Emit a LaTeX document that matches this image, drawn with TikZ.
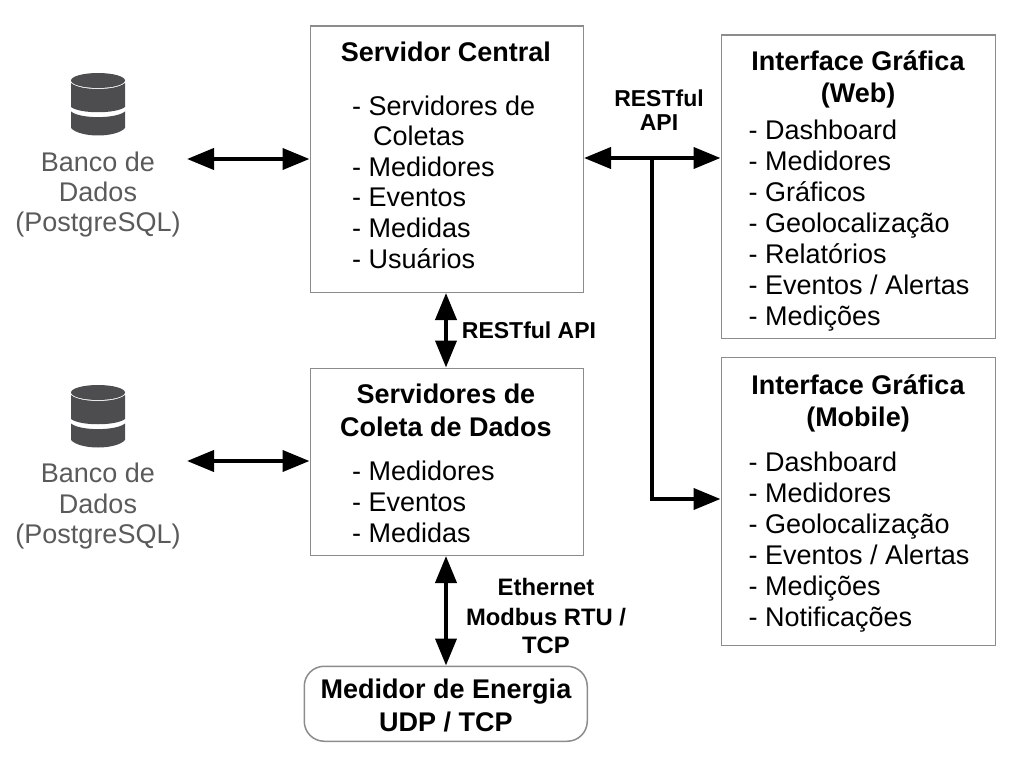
\documentclass[tikz,border=0pt]{standalone}
\usepackage{fontspec}
\setmainfont{Liberation Sans}
\usetikzlibrary{arrows.meta}
\definecolor{edgegray}{HTML}{8C8C8C}
\definecolor{dbdark}{HTML}{4D4D4F}
\definecolor{dbtext}{HTML}{5A5A5A}
\tikzset{
  x=1pt,y=-1pt,
  boxnode/.style={draw=edgegray,line width=1.5pt,fill=white,anchor=north west,inner sep=0pt},
  titletext/.style={font=\fontsize{27}{32.5}\selectfont\bfseries,align=center,inner sep=0pt,anchor=base},
  listtext/.style={font=\fontsize{27}{30.9}\selectfont,align=left,inner sep=0pt,anchor=base west,text=black},
  dbtextnode/.style={font=\fontsize{27}{30.5}\selectfont,align=center,inner sep=0pt,anchor=base,text=dbtext},
  linklabel/.style={font=\fontsize{23}{29.5}\selectfont\bfseries,align=center,inner sep=0pt,anchor=base},
  biarrow/.style={line width=4pt,{Triangle[length=27pt,width=21pt]}-{Triangle[length=27pt,width=21pt]}},
  onearrow/.style={line width=4pt,-{Triangle[length=27pt,width=21pt]}},
  dbicon/.pic={
    \fill[dbdark] (27,7.5) arc[start angle=0,end angle=360,x radius=27,y radius=7.5];
    \fill[dbdark] (-27,10) .. controls (-18,18) and (18,18) .. (27,10) -- (27,34) .. controls (18,41) and (-18,41) .. (-27,34) -- cycle;
    \fill[dbdark] (-27,38.5) .. controls (-18,46) and (18,46) .. (27,38.5) -- (27,55) .. controls (18,65) and (-18,65) .. (-27,55) -- cycle;
  }
}
\begin{document}
\begin{tikzpicture}
\useasboundingbox (0,0) rectangle (1010,757);
% boxes
\node[boxnode,minimum width=273pt,minimum height=266pt] (central) at (309.5,25.5) {};
\node[boxnode,minimum width=273pt,minimum height=187pt] (coleta) at (309.5,367.5) {};
\node[boxnode,minimum width=274pt,minimum height=303pt] (web) at (720.5,34.5) {};
\node[boxnode,minimum width=274pt,minimum height=288pt] (mobile) at (720.5,356.5) {};
\node[boxnode,rounded corners=20pt,minimum width=283pt,minimum height=75pt] (meter) at (303.5,665.5) {};
% titles
\node[titletext] (t1) at (446,62) {Servidor Central};
\node[titletext] (t2) at (446,436) {Servidores de\\Coleta de Dados};
\node[titletext] (t3) at (858,103) {Interface Gráfica\\(Web)};
\node[titletext] (t4) at (858,426.5) {Interface Gráfica\\(Mobile)};
\node[titletext] (t5) at (446,731) {Medidor de Energia\\UDP / TCP};
% lists
\node[listtext,font=\fontsize{27}{30.6}\selectfont] (l1) at (352,268) {- Servidores de\\\hspace{21pt}Coletas\\- Medidores\\- Eventos\\- Medidas\\- Usuários};
\node[listtext] (l2) at (352,542) {- Medidores\\- Eventos\\- Medidas};
\node[listtext] (l3) at (748.5,325) {- Dashboard\\- Medidores\\- Gráficos\\- Geolocalização\\- Relatórios\\- Eventos / Alertas\\- Medições};
\node[listtext] (l4) at (748.5,626) {- Dashboard\\- Medidores\\- Geolocalização\\- Eventos / Alertas\\- Medições\\- Notificações};
% databases
\pic at (98,73) {dbicon};
\pic at (98,385) {dbicon};
\node[dbtextnode] (d1) at (98,232) {Banco de\\Dados\\(PostgreSQL)};
\node[dbtextnode] (d2) at (98,543.5) {Banco de\\Dados\\(PostgreSQL)};
% labels
\node[linklabel] (a1) at (659,131) {RESTful\\[-5pt]API};
\node[linklabel] (a2) at (529,338) {RESTful API};
\node[linklabel,font=\fontsize{23.8}{29.5}\selectfont\bfseries] (a3) at (546,653) {Ethernet\\[1pt]Modbus RTU /\\[-2pt]TCP};
% connectors
\coordinate (d1r) at (187,159);
\coordinate (d2r) at (187,461);
\coordinate (busL) at (central.east |- 0,158);
\coordinate (busR) at (web.west |- 0,158);
\coordinate (busT) at (652,158);
\coordinate (busB) at (652,499);
\coordinate (mobIn) at (mobile.west |- 0,499);
\draw[biarrow] (d1r) -- (d1r -| central.west);
\draw[biarrow] (d2r) -- (d2r -| coleta.west);
\draw[biarrow] (busL) -- (busR);
\draw[line width=4pt,line cap=butt] (busT) -- (busB);
\draw[onearrow] (650,499) -- (mobIn);
\draw[biarrow] (central.south -| 446,0) -- (coleta.north -| 446,0);
\draw[biarrow] (coleta.south -| 446,0) -- (meter.north -| 446,0);
\end{tikzpicture}
\end{document}
